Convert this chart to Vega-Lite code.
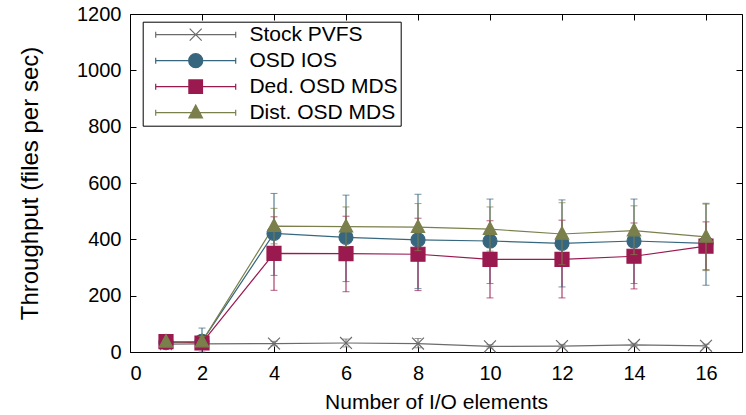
{
  "$schema": "https://vega.github.io/schema/vega-lite/v6.json",
  "width": 612,
  "height": 338,
  "autosize": {"type": "none"},
  "padding": {"left": 130, "top": 14, "right": 4, "bottom": 63},
  "config": {
    "font": "Liberation Sans",
    "view": {"stroke": "#000000", "strokeWidth": 1},
    "range": {"category": ["#6b6b6b", "#37677f", "#9a1a50", "#7a7f4c"]},
    "axis": {"grid": false, "domain": false, "tickColor": "#000000", "tickSize": -6, "labelFontSize": 20, "titleFontSize": 21, "labelColor": "#000000", "titleColor": "#000000", "titleFontWeight": "normal", "labelFont": "Liberation Sans", "titleFont": "Liberation Sans"}
  },
  "data": {"values": [
    {"series": "Stock PVFS", "x": 1, "y": 28, "lo": 24, "hi": 32},
    {"series": "Stock PVFS", "x": 2, "y": 29, "lo": 25, "hi": 33},
    {"series": "Stock PVFS", "x": 4, "y": 30, "lo": 22, "hi": 38},
    {"series": "Stock PVFS", "x": 6, "y": 32, "lo": 18, "hi": 46},
    {"series": "Stock PVFS", "x": 8, "y": 30, "lo": 15, "hi": 48},
    {"series": "Stock PVFS", "x": 10, "y": 20, "lo": 14, "hi": 26},
    {"series": "Stock PVFS", "x": 12, "y": 21, "lo": 15, "hi": 27},
    {"series": "Stock PVFS", "x": 14, "y": 25, "lo": 19, "hi": 31},
    {"series": "Stock PVFS", "x": 16, "y": 22, "lo": 16, "hi": 28},
    {"series": "OSD IOS", "x": 1, "y": 33, "lo": 25, "hi": 41},
    {"series": "OSD IOS", "x": 2, "y": 38, "lo": 0, "hi": 85},
    {"series": "OSD IOS", "x": 4, "y": 421, "lo": 272, "hi": 563},
    {"series": "OSD IOS", "x": 6, "y": 407, "lo": 250, "hi": 557},
    {"series": "OSD IOS", "x": 8, "y": 398, "lo": 225, "hi": 560},
    {"series": "OSD IOS", "x": 10, "y": 394, "lo": 243, "hi": 543},
    {"series": "OSD IOS", "x": 12, "y": 386, "lo": 231, "hi": 540},
    {"series": "OSD IOS", "x": 14, "y": 394, "lo": 243, "hi": 543},
    {"series": "OSD IOS", "x": 16, "y": 386, "lo": 237, "hi": 528},
    {"series": "Ded. OSD MDS", "x": 1, "y": 37, "lo": 30, "hi": 44},
    {"series": "Ded. OSD MDS", "x": 2, "y": 32, "lo": 25, "hi": 40},
    {"series": "Ded. OSD MDS", "x": 4, "y": 350, "lo": 219, "hi": 480},
    {"series": "Ded. OSD MDS", "x": 6, "y": 349, "lo": 214, "hi": 482},
    {"series": "Ded. OSD MDS", "x": 8, "y": 347, "lo": 218, "hi": 475},
    {"series": "Ded. OSD MDS", "x": 10, "y": 329, "lo": 192, "hi": 466},
    {"series": "Ded. OSD MDS", "x": 12, "y": 329, "lo": 192, "hi": 468},
    {"series": "Ded. OSD MDS", "x": 14, "y": 340, "lo": 224, "hi": 458},
    {"series": "Ded. OSD MDS", "x": 16, "y": 376, "lo": 292, "hi": 462},
    {"series": "Dist. OSD MDS", "x": 1, "y": 36, "lo": 30, "hi": 42},
    {"series": "Dist. OSD MDS", "x": 2, "y": 37, "lo": 25, "hi": 55},
    {"series": "Dist. OSD MDS", "x": 4, "y": 447, "lo": 384, "hi": 510},
    {"series": "Dist. OSD MDS", "x": 6, "y": 445, "lo": 375, "hi": 515},
    {"series": "Dist. OSD MDS", "x": 8, "y": 443, "lo": 360, "hi": 527},
    {"series": "Dist. OSD MDS", "x": 10, "y": 436, "lo": 358, "hi": 515},
    {"series": "Dist. OSD MDS", "x": 12, "y": 419, "lo": 310, "hi": 530},
    {"series": "Dist. OSD MDS", "x": 14, "y": 431, "lo": 346, "hi": 519},
    {"series": "Dist. OSD MDS", "x": 16, "y": 409, "lo": 289, "hi": 525}
  ]},
  "layer": [
    {
      "transform": [{"filter": "datum.series != 'Dist. OSD MDS'"}],
      "mark": {"type": "rule", "strokeWidth": 1},
      "encoding": {
        "x": {"field": "x", "type": "quantitative", "scale": {"domain": [0, 17], "nice": false},
              "axis": {"orient": "bottom", "values": [0, 2, 4, 6, 8, 10, 12, 14, 16], "title": "Number of I/O elements", "labelPadding": 17, "titlePadding": 8}},
        "y": {"field": "lo", "type": "quantitative", "scale": {"domain": [0, 1200], "nice": false},
              "axis": {"orient": "left", "values": [0, 200, 400, 600, 800, 1000, 1200], "format": "d", "title": "Throughput (files per sec)", "titleFontSize": 24, "labelPadding": 15, "titlePadding": 34}},
        "y2": {"field": "hi"},
        "color": {"field": "series", "type": "nominal", "scale": {"domain": ["Stock PVFS", "OSD IOS", "Ded. OSD MDS", "Dist. OSD MDS"]}, "legend": null}
      }
    },
    {
      "transform": [{"filter": "datum.series != 'Dist. OSD MDS'"}],
      "mark": {"type": "tick", "orient": "horizontal", "size": 7, "thickness": 1},
      "encoding": {
        "x": {"field": "x", "type": "quantitative", "axis": null},
        "y": {"field": "lo", "type": "quantitative", "axis": null},
        "color": {"field": "series", "type": "nominal", "scale": {"domain": ["Stock PVFS", "OSD IOS", "Ded. OSD MDS", "Dist. OSD MDS"]}, "legend": null}
      }
    },
    {
      "transform": [{"filter": "datum.series != 'Dist. OSD MDS'"}],
      "mark": {"type": "tick", "orient": "horizontal", "size": 7, "thickness": 1},
      "encoding": {
        "x": {"field": "x", "type": "quantitative", "axis": null},
        "y": {"field": "hi", "type": "quantitative", "axis": null},
        "color": {"field": "series", "type": "nominal", "scale": {"domain": ["Stock PVFS", "OSD IOS", "Ded. OSD MDS", "Dist. OSD MDS"]}, "legend": null}
      }
    },
    {
      "mark": {"type": "line", "strokeWidth": 1.2},
      "encoding": {
        "x": {"field": "x", "type": "quantitative",
              "axis": {"orient": "top", "values": [0, 2, 4, 6, 8, 10, 12, 14, 16], "labels": false, "title": null}},
        "y": {"field": "y", "type": "quantitative",
              "axis": {"orient": "right", "values": [0, 200, 400, 600, 800, 1000, 1200], "labels": false, "title": null}},
        "color": {"field": "series", "type": "nominal", "scale": {"domain": ["Stock PVFS", "OSD IOS", "Ded. OSD MDS", "Dist. OSD MDS"]}, "legend": null}
      }
    },
    {
      "transform": [{"filter": "datum.series != 'Dist. OSD MDS'"}],
      "mark": {"type": "point", "filled": true, "size": 196, "strokeWidth": 1.2, "opacity": 1},
      "encoding": {
        "x": {"field": "x", "type": "quantitative", "axis": null},
        "y": {"field": "y", "type": "quantitative", "axis": null},
        "color": {"field": "series", "type": "nominal", "scale": {"domain": ["Stock PVFS", "OSD IOS", "Ded. OSD MDS", "Dist. OSD MDS"]}, "legend": null},
        "stroke": {"field": "series", "type": "nominal", "scale": {"domain": ["Stock PVFS", "OSD IOS", "Ded. OSD MDS", "Dist. OSD MDS"]}, "legend": null},
        "shape": {"field": "series", "type": "nominal", "scale": {"domain": ["Stock PVFS", "OSD IOS", "Ded. OSD MDS", "Dist. OSD MDS"], "range": ["M-0.85,-0.85L0.85,0.85M-0.85,0.85L0.85,-0.85", "circle", "square", "M0,-1.05L0.95,0.75L-0.95,0.75Z"]}, "legend": null}
      }
    },
    {
      "transform": [{"filter": "datum.series == 'Dist. OSD MDS'"}],
      "mark": {"type": "rule", "strokeWidth": 1},
      "encoding": {
        "x": {"field": "x", "type": "quantitative", "axis": null},
        "y": {"field": "lo", "type": "quantitative", "axis": null},
        "y2": {"field": "hi"},
        "color": {"field": "series", "type": "nominal", "scale": {"domain": ["Stock PVFS", "OSD IOS", "Ded. OSD MDS", "Dist. OSD MDS"]}, "legend": null}
      }
    },
    {
      "transform": [{"filter": "datum.series == 'Dist. OSD MDS'"}],
      "mark": {"type": "tick", "orient": "horizontal", "size": 7, "thickness": 1},
      "encoding": {
        "x": {"field": "x", "type": "quantitative", "axis": null},
        "y": {"field": "lo", "type": "quantitative", "axis": null},
        "color": {"field": "series", "type": "nominal", "scale": {"domain": ["Stock PVFS", "OSD IOS", "Ded. OSD MDS", "Dist. OSD MDS"]}, "legend": null}
      }
    },
    {
      "transform": [{"filter": "datum.series == 'Dist. OSD MDS'"}],
      "mark": {"type": "tick", "orient": "horizontal", "size": 7, "thickness": 1},
      "encoding": {
        "x": {"field": "x", "type": "quantitative", "axis": null},
        "y": {"field": "hi", "type": "quantitative", "axis": null},
        "color": {"field": "series", "type": "nominal", "scale": {"domain": ["Stock PVFS", "OSD IOS", "Ded. OSD MDS", "Dist. OSD MDS"]}, "legend": null}
      }
    },
    {
      "transform": [{"filter": "datum.series == 'Dist. OSD MDS'"}],
      "mark": {"type": "point", "filled": true, "size": 196, "strokeWidth": 1.2, "opacity": 1},
      "encoding": {
        "x": {"field": "x", "type": "quantitative", "axis": null},
        "y": {"field": "y", "type": "quantitative", "axis": null},
        "color": {"field": "series", "type": "nominal", "scale": {"domain": ["Stock PVFS", "OSD IOS", "Ded. OSD MDS", "Dist. OSD MDS"]}, "legend": null},
        "stroke": {"field": "series", "type": "nominal", "scale": {"domain": ["Stock PVFS", "OSD IOS", "Ded. OSD MDS", "Dist. OSD MDS"]}, "legend": null},
        "shape": {"field": "series", "type": "nominal", "scale": {"domain": ["Stock PVFS", "OSD IOS", "Ded. OSD MDS", "Dist. OSD MDS"], "range": ["M-0.85,-0.85L0.85,0.85M-0.85,0.85L0.85,-0.85", "circle", "square", "M0,-1.05L0.95,0.75L-0.95,0.75Z"]}, "legend": null}
      }
    },
    {
      "transform": [{"filter": "datum.x == 1"}],
      "mark": {"type": "point", "filled": true, "size": 0},
      "encoding": {
        "x": {"field": "x", "type": "quantitative", "axis": null},
        "y": {"field": "y", "type": "quantitative", "axis": null},
        "fill": {"field": "series", "type": "nominal", "scale": {"domain": ["Stock PVFS", "OSD IOS", "Ded. OSD MDS", "Dist. OSD MDS"]},
                 "legend": {"title": null, "orient": "none", "legendX": 12.7, "legendY": 7.7, "padding": 3, "strokeColor": "#000000", "fillColor": "#ffffff", "symbolSize": 6400, "clipHeight": 20, "rowPadding": 5, "symbolOffset": 9, "labelOffset": 12.7, "labelFontSize": 21, "labelColor": "#000000", "labelFont": "Liberation Sans", "symbolStrokeWidth": 1.2, "symbolOpacity": 1}},
        "stroke": {"field": "series", "type": "nominal", "scale": {"domain": ["Stock PVFS", "OSD IOS", "Ded. OSD MDS", "Dist. OSD MDS"]},
                 "legend": {"title": null, "orient": "none", "legendX": 12.7, "legendY": 7.7, "padding": 3, "strokeColor": "#000000", "fillColor": "#ffffff", "symbolSize": 6400, "clipHeight": 20, "rowPadding": 5, "symbolOffset": 9, "labelOffset": 12.7, "labelFontSize": 21, "labelColor": "#000000", "labelFont": "Liberation Sans", "symbolStrokeWidth": 1.2, "symbolOpacity": 1}},
        "shape": {"field": "series", "type": "nominal", "scale": {"domain": ["Stock PVFS", "OSD IOS", "Ded. OSD MDS", "Dist. OSD MDS"], "range": [
                   "M-1,0H1M-1,-0.075V0.075M1,-0.075V0.075M-0.15,-0.15L0.15,0.15M-0.15,0.15L0.15,-0.15",
                   "M-1,0H1M-1,-0.075V0.075M1,-0.075V0.075M0.175,0A0.175,0.175,0,1,1,-0.175,0A0.175,0.175,0,1,1,0.175,0Z",
                   "M-1,0H1M-1,-0.075V0.075M1,-0.075V0.075M-0.17,-0.17H0.17V0.17H-0.17Z",
                   "M-1,0H1M-1,-0.075V0.075M1,-0.075V0.075M0,-0.19L0.17,0.13L-0.17,0.13Z"]},
                 "legend": {"title": null, "orient": "none", "legendX": 12.7, "legendY": 7.7, "padding": 3, "strokeColor": "#000000", "fillColor": "#ffffff", "symbolSize": 6400, "clipHeight": 20, "rowPadding": 5, "symbolOffset": 9, "labelOffset": 12.7, "labelFontSize": 21, "labelColor": "#000000", "labelFont": "Liberation Sans", "symbolStrokeWidth": 1.2, "symbolOpacity": 1}}
      }
    }
  ],
  "resolve": {
    "scale": {"color": "independent", "stroke": "independent", "fill": "independent", "shape": "independent"},
    "legend": {"color": "independent", "stroke": "independent", "fill": "independent", "shape": "independent"},
    "axis": {"x": "independent", "y": "independent"}
  }
}
